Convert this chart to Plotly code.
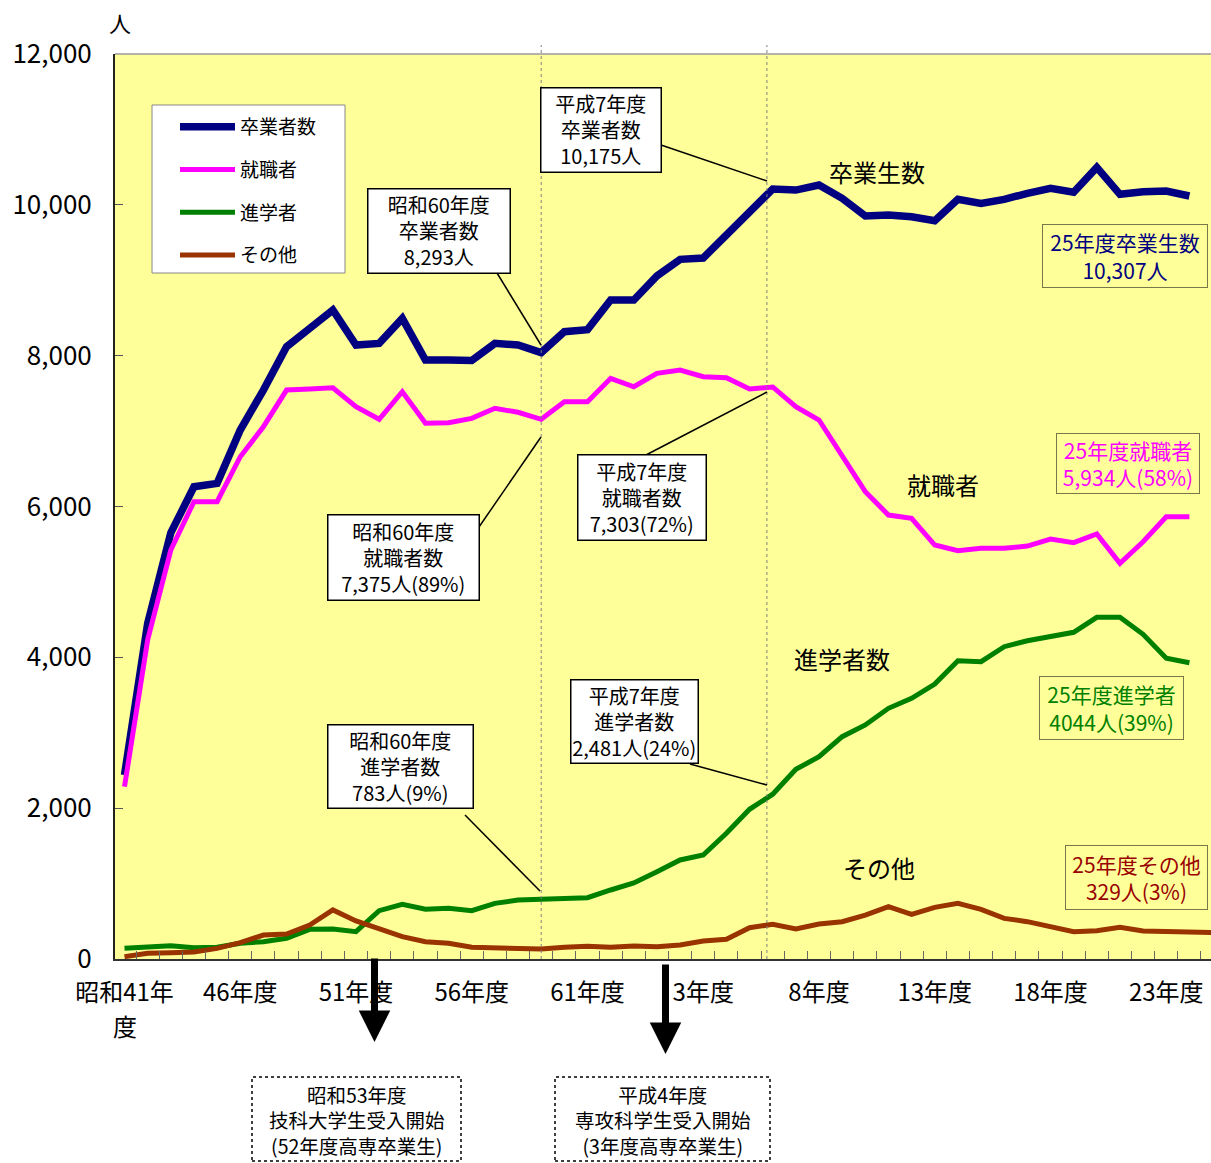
import plotly.graph_objects as go

# ---------------- data ----------------
tick_positions = [0, 5, 10, 15, 20, 25, 30, 35, 40, 45]
tick_labels = ["昭和41年", "46年度", "51年度", "56年度", "61年度",
               "3年度", "8年度", "13年度", "18年度", "23年度"]
first_label_tail = "度"   # second line of the first tick label

graduates = [2440, 4450, 5650, 6262, 6307, 7014, 7544, 8118, 8362, 8605,
             8141, 8163, 8495, 7942, 7942, 7935, 8163, 8141, 8040, 8318,
             8345, 8738, 8738, 9058, 9277, 9295, 9600, 9909, 10210, 10196,
             10262, 10086, 9851, 9864, 9842, 9789, 10073, 10020, 10073, 10153,
             10219, 10166, 10497, 10139, 10174, 10183, 10117]
employed = [2285, 4230, 5423, 6063, 6063, 6660, 7058, 7544, 7558, 7575,
            7323, 7156, 7522, 7103, 7111, 7169, 7302, 7249, 7156, 7390,
            7390, 7700, 7588, 7766, 7810, 7721, 7708, 7558, 7585, 7323,
            7147, 6683, 6196, 5887, 5843, 5489, 5414, 5445, 5445, 5476,
            5569, 5520, 5635, 5246, 5533, 5865, 5865]
further_study = [141, 163, 177, 150, 155, 208, 230, 274, 393, 398,
                 362, 641, 725, 659, 672, 641, 738, 782, 792, 805,
                 813, 915, 1008, 1158, 1313, 1379, 1667, 1985, 2185, 2515,
                 2682, 2948, 3103, 3324, 3457, 3646, 3955, 3942, 4141, 4220,
                 4273, 4332, 4531, 4531, 4305, 3987, 3929]
other = [31, 75, 84, 93, 141, 216, 318, 331, 451, 650,
         504, 407, 296, 230, 208, 155, 150, 150, 133, 155,
         168, 155, 172, 163, 186, 239, 261, 415, 460, 398,
         464, 495, 583, 694, 592, 685, 739, 659, 539, 495,
         429, 362, 375, 420, 371, 365, 360, 350]

y_ticks = [0, 2000, 4000, 6000, 8000, 10000, 12000]
y_tick_labels = ["0", "2,000", "4,000", "6,000", "8,000", "10,000", "12,000"]

series_names = ["卒業者数", "就職者", "進学者", "その他"]
series_values = [graduates, employed, further_study, other]
series_colors = ["#000080", "#FF00FF", "#008000", "#993300"]
series_widths = [7.5, 5, 5, 5]

marker_idx = [18, 27.75]   # dotted reference lines (昭和60年度, 平成7年度)

FONT = "Noto Sans CJK JP"

# ---------------- geometry helpers ----------------
W, H = 1211, 1163
L, R, T, B = 115, 0, 54, 1163 - 959
PW, PH = W - L - R, H - T - B
PX_PER_IDX = 23.15
X0 = (115 - 124.5) / PX_PER_IDX
X1 = X0 + PW / PX_PER_IDX
YMAX = 12000


def ppx(px):
    return (px - L) / PW


def ppy(py):
    return (T + PH - py) / PH


def dx(px):
    return X0 + (px - L) / PX_PER_IDX


def dy(py):
    return (T + PH - py) / PH * YMAX


fig = go.Figure()
for name, vals, col, w in zip(series_names, series_values, series_colors, series_widths):
    fig.add_trace(go.Scatter(
        x=list(range(len(vals))), y=vals, mode="lines", name=name,
        legendgroup=name,
        line=dict(color=col, width=w),
        hoverinfo="skip",
    ))

shapes = []
# legend frame
shapes.append(dict(type="rect", xref="paper", yref="paper",
                   x0=ppx(152), x1=ppx(345), y0=ppy(273), y1=ppy(105),
                   fillcolor="white", line=dict(color="#888888", width=1),
                   layer="below"))
# top border of plot area
shapes.append(dict(type="line", xref="paper", yref="paper", x0=0, x1=1, y0=1, y1=1,
                   line=dict(color="#9a9a9a", width=1.5)))
# dotted vertical lines
for xi in marker_idx:
    shapes.append(dict(type="line", xref="x", yref="paper", x0=xi, x1=xi,
                       y0=0, y1=ppy(45), line=dict(color="#808080", width=1, dash="dot")))

# callout connector lines (pixel endpoints converted to data coords)
connectors = [
    ((661, 145), (767, 181)),
    ((497, 273), (541, 345)),
    ((479, 527), (541, 437)),
    ((646, 455), (767, 392)),
    ((690, 764), (767, 785)),
    ((465, 815), (540, 891)),
]
for (ax_, ay_), (bx_, by_) in connectors:
    shapes.append(dict(type="line", xref="x", yref="y",
                       x0=dx(ax_), y0=dy(ay_), x1=dx(bx_), y1=dy(by_),
                       line=dict(color="black", width=1.5)))

# dotted boxes under the axis
for (x0p, x1p) in [(252, 461), (555, 770)]:
    shapes.append(dict(type="rect", xref="paper", yref="paper",
                       x0=ppx(x0p), x1=ppx(x1p), y0=ppy(1161), y1=ppy(1077),
                       line=dict(color="black", width=1.5, dash="dot"),
                       fillcolor="rgba(0,0,0,0)"))

annotations = []


def box(text, x0p, y0p, x1p, y1p, color="black", bg="white", border="black",
        bw=1.5, size=20):
    annotations.append(dict(
        text=text, xref="paper", yref="paper",
        x=ppx((x0p + x1p) / 2), y=ppy((y0p + y1p) / 2),
        xanchor="center", yanchor="middle", showarrow=False,
        width=(x1p - x0p) - 2 - bw, height=(y1p - y0p) - 2 - bw,
        borderpad=1, bgcolor=bg, bordercolor=border, borderwidth=bw,
        align="center", valign="middle",
        font=dict(family=FONT, size=size, color=color)))


box("平成7年度<br>卒業者数<br>10,175人", 541, 88, 661, 172)
box("昭和60年度<br>卒業者数<br>8,293人", 368, 189, 510, 273)
box("昭和60年度<br>就職者数<br>7,375人(89%)", 328, 515, 479, 600)
box("平成7年度<br>就職者数<br>7,303(72%)", 578, 455, 706, 540)
box("平成7年度<br>進学者数<br>2,481人(24%)", 571, 680, 698, 763)
box("昭和60年度<br>進学者数<br>783人(9%)", 328, 725, 473, 808)

box("25年度卒業生数<br>10,307人", 1042, 224, 1207, 287, color="#000080",
    bg="#FFFF99", border="#77774a", bw=1, size=21)
box("25年度就職者<br>5,934人(58%)", 1056, 434, 1199, 494, color="#FF00FF",
    bg="#FFFF99", border="#77774a", bw=1, size=21)
box("25年度進学者<br>4044人(39%)", 1039, 677, 1183, 740, color="#008000",
    bg="#FFFF99", border="#77774a", bw=1, size=21)
box("25年度その他<br>329人(3%)", 1065, 845, 1207, 909, color="#990000",
    bg="#FFFF99", border="#77774a", bw=1, size=21)

# series labels
for txt, cx, cy in [("卒業生数", 877, 172), ("就職者", 943, 484),
                    ("進学者数", 842, 658), ("その他", 879, 867)]:
    annotations.append(dict(text=txt, xref="paper", yref="paper", x=ppx(cx), y=ppy(cy),
                            xanchor="center", yanchor="middle", showarrow=False,
                            font=dict(family=FONT, size=24, color="black")))

# unit label
annotations.append(dict(text="人", xref="paper", yref="paper", x=ppx(120), y=ppy(22),
                        xanchor="center", yanchor="middle", showarrow=False,
                        font=dict(family=FONT, size=22, color="black")))

# wrapped tail of the first x tick label
annotations.append(dict(text=first_label_tail, xref="x", yref="paper", x=tick_positions[0],
                        y=ppy(1025), xanchor="center", yanchor="middle", showarrow=False,
                        font=dict(family=FONT, size=24, color="black")))

# bottom notes
for txt, cx in [("昭和53年度<br>技科大学生受入開始<br>(52年度高専卒業生)", 356.5),
                ("平成4年度<br>専攻科学生受入開始<br>(3年度高専卒業生)", 662.5)]:
    annotations.append(dict(text=txt, xref="paper", yref="paper", x=ppx(cx), y=ppy(1120),
                            xanchor="center", yanchor="middle", showarrow=False,
                            align="center",
                            font=dict(family=FONT, size=19.5, color="black")))

# downward arrows
for cx, ytop, ytip in [(374.5, 957, 1042), (665.5, 963, 1054)]:
    annotations.append(dict(text="", xref="paper", yref="paper", x=ppx(cx), y=ppy(ytip),
                            ax=0, ay=-(ytip - ytop), showarrow=True, arrowhead=2,
                            arrowsize=0.9, arrowwidth=7, arrowcolor="black", standoff=0))

fig.update_layout(
    width=W, height=H,
    margin=dict(l=L, r=R, t=T, b=B, pad=0),
    paper_bgcolor="white", plot_bgcolor="#FFFF99",
    font=dict(family=FONT, color="black"),
    shapes=shapes, annotations=annotations,
    showlegend=True,
    legend=dict(x=ppx(175), y=ppy(108), xanchor="left", yanchor="top",
                bgcolor="rgba(0,0,0,0)", borderwidth=0,
                font=dict(family=FONT, size=19, color="black"),
                tracegroupgap=15, itemwidth=55),
)
fig.update_xaxes(range=[X0, X1], tickmode="array", tickvals=tick_positions,
                 ticktext=tick_labels, ticks="", showgrid=False, zeroline=False,
                 showline=True, linecolor="#333333", linewidth=2,
                 tickfont=dict(family=FONT, size=24, color="black"),
                 ticklabelstandoff=11,
                 minor=dict(tick0=0.5, dtick=1, ticks="inside", ticklen=8,
                            tickcolor="#666666", tickwidth=1, showgrid=False))
fig.update_yaxes(range=[0, YMAX], tickmode="array", tickvals=y_ticks,
                 ticktext=y_tick_labels, ticks="inside", ticklen=8,
                 tickcolor="#555555", showgrid=False, zeroline=False,
                 showline=True, linecolor="#222222", linewidth=2,
                 tickfont=dict(family=FONT, size=26, color="black"),
                 ticklabelstandoff=16)

fig.write_html("out.html")
